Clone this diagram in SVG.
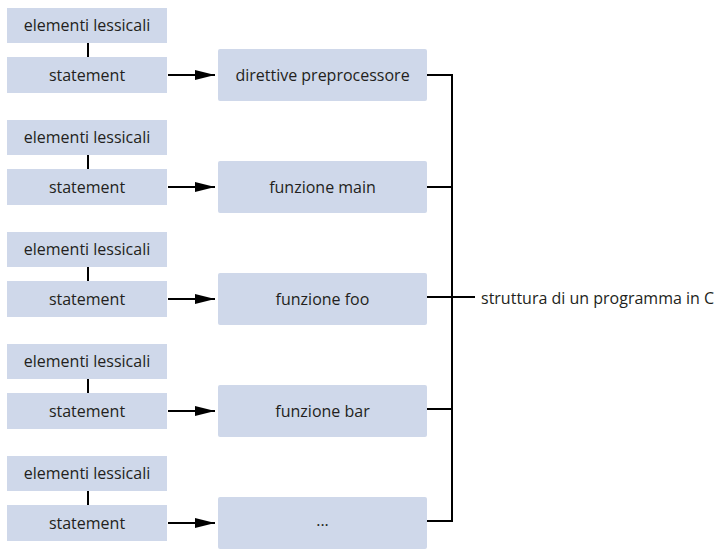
<svg xmlns="http://www.w3.org/2000/svg" width="728" height="553" viewBox="0 0 728 553">
<style>
.box{fill:#cfd8ea;}
.t{font-family:"Open Sans","Liberation Sans",sans-serif;font-size:16px;fill:#231f20;text-anchor:middle;dominant-baseline:central;}
.ln{stroke:#000;stroke-width:2;fill:none;}
</style>
<defs>
<marker id="ah" markerWidth="20" markerHeight="10" refX="20" refY="5" orient="auto" markerUnits="userSpaceOnUse">
<path d="M0,0 L20,5 L0,10 Z" fill="#000"/>
</marker>
</defs>
<rect width="728" height="553" fill="#fff"/>
<g id="lex1"><rect class="box" x="7" y="8" width="160" height="35"/><text class="t" x="87" y="25">elementi lessicali</text></g>
<g id="st1"><rect class="box" x="7" y="57" width="160" height="36"/><text class="t" x="87" y="74.5">statement</text></g>
<g id="m1"><rect class="box" x="218" y="49" width="209" height="52" rx="2"/><text class="t" x="322.5" y="74.5">direttive preprocessore</text></g>
<g id="lex2"><rect class="box" x="7" y="120" width="160" height="35"/><text class="t" x="87" y="137">elementi lessicali</text></g>
<g id="st2"><rect class="box" x="7" y="169" width="160" height="36"/><text class="t" x="87" y="186.5">statement</text></g>
<g id="m2"><rect class="box" x="218" y="161" width="209" height="52" rx="2"/><text class="t" x="322.5" y="186.5">funzione main</text></g>
<g id="lex3"><rect class="box" x="7" y="232" width="160" height="35"/><text class="t" x="87" y="249">elementi lessicali</text></g>
<g id="st3"><rect class="box" x="7" y="281" width="160" height="36"/><text class="t" x="87" y="298.5">statement</text></g>
<g id="m3"><rect class="box" x="218" y="273" width="209" height="52" rx="2"/><text class="t" x="322.5" y="298.5">funzione foo</text></g>
<g id="lex4"><rect class="box" x="7" y="344" width="160" height="35"/><text class="t" x="87" y="361">elementi lessicali</text></g>
<g id="st4"><rect class="box" x="7" y="393" width="160" height="36"/><text class="t" x="87" y="410.5">statement</text></g>
<g id="m4"><rect class="box" x="218" y="385" width="209" height="52" rx="2"/><text class="t" x="322.5" y="410.5">funzione bar</text></g>
<g id="lex5"><rect class="box" x="7" y="456" width="160" height="35"/><text class="t" x="87" y="473">elementi lessicali</text></g>
<g id="st5"><rect class="box" x="7" y="505" width="160" height="36"/><text class="t" x="87" y="522.5">statement</text></g>
<g id="m5"><rect class="box" x="218" y="497" width="209" height="52" rx="2"/><text class="t" x="322.5" y="520">...</text></g>
<g id="label"><text class="t" x="481" y="297.5" style="text-anchor:start">struttura di un programma in C</text></g>
<g id="connectors">
<path class="ln" d="M88,43 V57 M88,155 V169 M88,267 V281 M88,379 V393 M88,491 V505"/>
<path class="ln" d="M168,75 H215" marker-end="url(#ah)"/>
<path class="ln" d="M168,187 H215" marker-end="url(#ah)"/>
<path class="ln" d="M168,299 H215" marker-end="url(#ah)"/>
<path class="ln" d="M168,411 H215" marker-end="url(#ah)"/>
<path class="ln" d="M168,523 H215" marker-end="url(#ah)"/>
<path class="ln" d="M427,75 H452 V521 H427 M427,187 H452 M427,297 H475 M427,409 H452"/>
</g>
</svg>
